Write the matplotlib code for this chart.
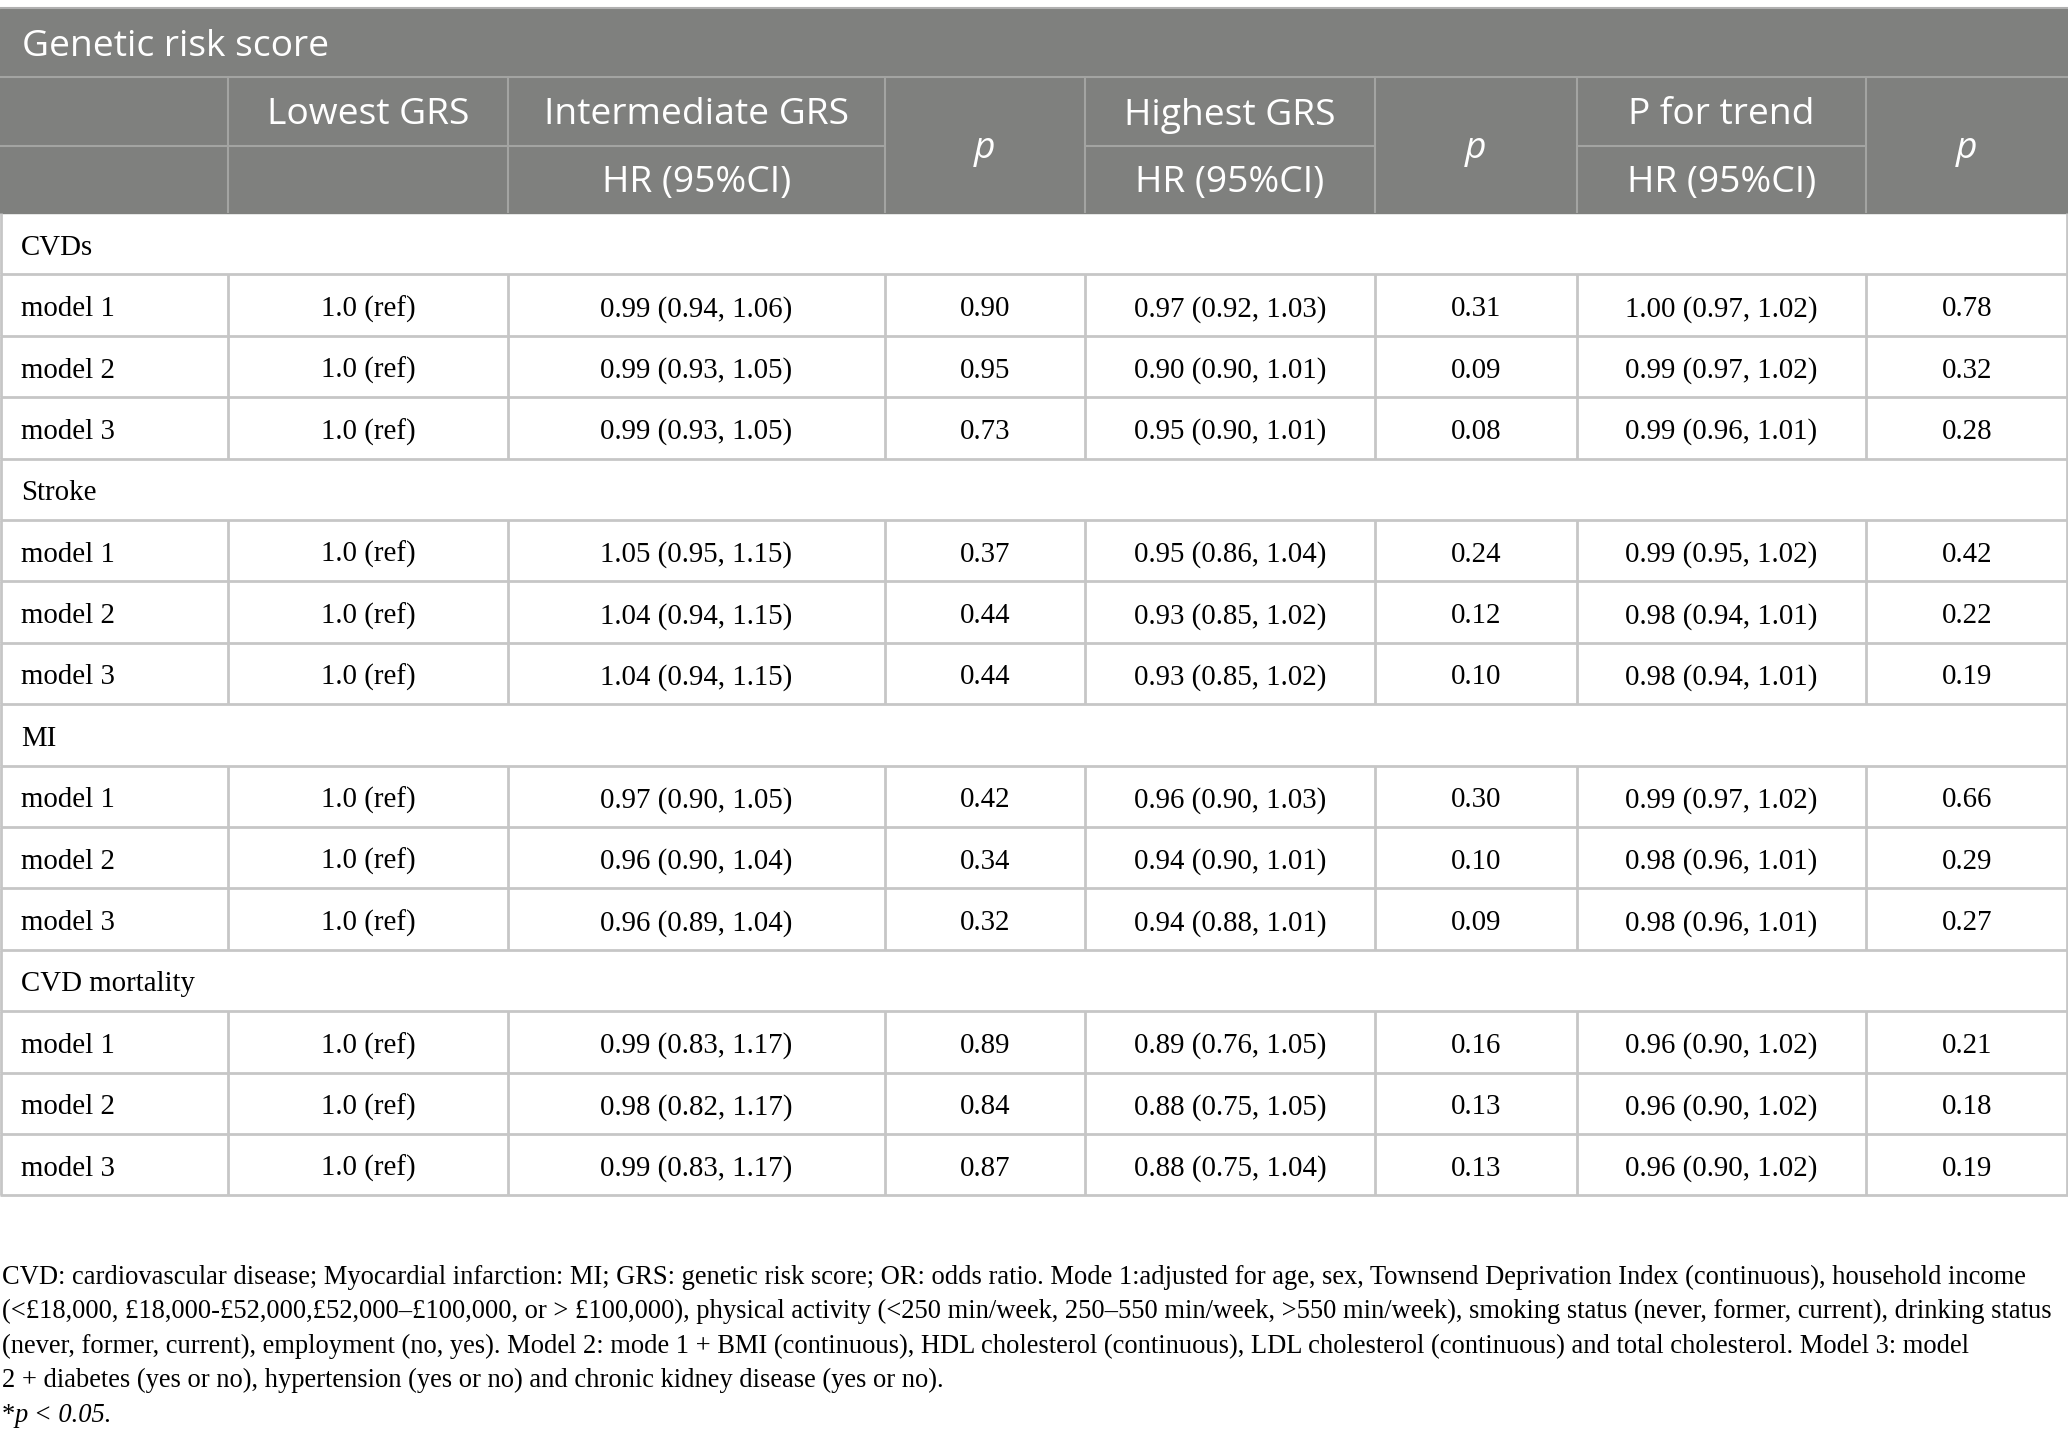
import matplotlib
matplotlib.use("Agg")
from matplotlib import pyplot as plt
from matplotlib.patches import Rectangle

# ---- table content
title = 'Genetic risk score'
col_heads = ['Lowest GRS', 'Intermediate GRS', 'p', 'Highest GRS', 'p', 'P for trend', 'p']
sub_heads = ['', 'HR (95%CI)', '', 'HR (95%CI)', '', 'HR (95%CI)', '']

groups = ['CVDs', 'Stroke', 'MI', 'CVD mortality']
models = ['model 1', 'model 2', 'model 3']
lowest = '1.0 (ref)'

inter_hr = ['0.99 (0.94, 1.06)', '0.99 (0.93, 1.05)', '0.99 (0.93, 1.05)',
            '1.05 (0.95, 1.15)', '1.04 (0.94, 1.15)', '1.04 (0.94, 1.15)',
            '0.97 (0.90, 1.05)', '0.96 (0.90, 1.04)', '0.96 (0.89, 1.04)',
            '0.99 (0.83, 1.17)', '0.98 (0.82, 1.17)', '0.99 (0.83, 1.17)']
inter_p = ['0.90', '0.95', '0.73', '0.37', '0.44', '0.44',
           '0.42', '0.34', '0.32', '0.89', '0.84', '0.87']
high_hr = ['0.97 (0.92, 1.03)', '0.90 (0.90, 1.01)', '0.95 (0.90, 1.01)',
           '0.95 (0.86, 1.04)', '0.93 (0.85, 1.02)', '0.93 (0.85, 1.02)',
           '0.96 (0.90, 1.03)', '0.94 (0.90, 1.01)', '0.94 (0.88, 1.01)',
           '0.89 (0.76, 1.05)', '0.88 (0.75, 1.05)', '0.88 (0.75, 1.04)']
high_p = ['0.31', '0.09', '0.08', '0.24', '0.12', '0.10',
          '0.30', '0.10', '0.09', '0.16', '0.13', '0.13']
trend_hr = ['1.00 (0.97, 1.02)', '0.99 (0.97, 1.02)', '0.99 (0.96, 1.01)',
            '0.99 (0.95, 1.02)', '0.98 (0.94, 1.01)', '0.98 (0.94, 1.01)',
            '0.99 (0.97, 1.02)', '0.98 (0.96, 1.01)', '0.98 (0.96, 1.01)',
            '0.96 (0.90, 1.02)', '0.96 (0.90, 1.02)', '0.96 (0.90, 1.02)']
trend_p = ['0.78', '0.32', '0.28', '0.42', '0.22', '0.19',
           '0.66', '0.29', '0.27', '0.21', '0.18', '0.19']

footnote = [
    'CVD: cardiovascular disease; Myocardial infarction: MI; GRS: genetic risk score; OR: odds ratio. '
    'Mode 1:adjusted for age, sex, Townsend Deprivation Index (continuous), household income',
    '(<\u00a318,000, \u00a318,000-\u00a352,000,\u00a352,000\u2013\u00a3100,000, or > \u00a3100,000), physical activity '
    '(<250 min/week, 250\u2013550 min/week, >550 min/week), smoking status (never, former, current), drinking status',
    '(never, former, current), employment (no, yes). Model 2: mode 1 + BMI (continuous), HDL cholesterol '
    '(continuous), LDL cholesterol (continuous) and total cholesterol. Model 3: model',
    '2 + diabetes (yes or no), hypertension (yes or no) and chronic kidney disease (yes or no).',
]
star_note = 'p < 0.05.'

# ---- layout (pixels)
W, H = 2068, 1454
col_x = [0, 228, 508, 885, 1085, 1375, 1577, 1866, 2068]
head_top, head_mid1, head_mid2, head_bot = 9, 77, 146, 213
row_h = 61.4
head_bg = '#7f807e'
head_line = '#a3a4a2'
grid = '#c6c6c6'
sans = 'Open Sans'
serif = 'Liberation Serif'
hsize, bsize, fsize = 26.8, 20.8, 19.1
hdy, bdy = 4, 4   # nudge text down a little, like the reference

fig = plt.figure(figsize=(W / 100, H / 100), dpi=100)
ax = fig.add_axes([0, 0, 1, 1])
ax.set_xlim(0, W)
ax.set_ylim(H, 0)
ax.axis('off')

# header block
ax.add_patch(Rectangle((0, head_top), W, head_bot - head_top, color=head_bg, zorder=1))
ax.hlines(head_top - 1, 0, W, color='#b0b0b0', lw=1.5, zorder=2)
ax.hlines(head_mid1, 0, W, color=head_line, lw=1.5, zorder=2)
for i in range(len(col_x) - 1):
    if i < 2 or sub_heads[i - 1] != '':
        ax.hlines(head_mid2, col_x[i], col_x[i + 1], color=head_line, lw=1.5, zorder=2)
ax.vlines(col_x[1:-1], head_mid1, head_bot, color=head_line, lw=1.5, zorder=2)

ax.text(22, (head_top + head_mid1) / 2 + hdy, title, family=sans, fontsize=hsize,
        color='white', ha='left', va='center', zorder=3)
for i, (h, s) in enumerate(zip(col_heads, sub_heads)):
    cx = (col_x[i + 1] + col_x[i + 2]) / 2
    if h == 'p':
        ax.text(cx, (head_mid1 + head_bot) / 2 + hdy, h, family=sans, style='italic',
                fontsize=hsize, color='white', ha='center', va='center', zorder=3)
    else:
        ax.text(cx, (head_mid1 + head_mid2) / 2 + hdy, h, family=sans, fontsize=hsize,
                color='white', ha='center', va='center', zorder=3)
        if s:
            ax.text(cx, (head_mid2 + head_bot) / 2 + hdy, s, family=sans, fontsize=hsize,
                    color='white', ha='center', va='center', zorder=3)

# body rows
y = head_bot
k = 0
for g in groups:
    ax.text(21, y + row_h / 2 + bdy, g, family=serif, fontsize=bsize, ha='left', va='center')
    ax.vlines([1, W - 1], y, y + row_h, color=grid, lw=2)
    y += row_h
    ax.hlines(y, 0, W, color=grid, lw=2)
    for m in models:
        cells = [m, lowest, inter_hr[k], inter_p[k], high_hr[k], high_p[k], trend_hr[k], trend_p[k]]
        for j, c in enumerate(cells):
            if j == 0:
                ax.text(21, y + row_h / 2 + bdy, c, family=serif, fontsize=bsize,
                        ha='left', va='center')
            else:
                ax.text((col_x[j] + col_x[j + 1]) / 2, y + row_h / 2 + bdy, c, family=serif,
                        fontsize=bsize, ha='center', va='center')
        ax.vlines([1] + col_x[1:-1] + [W - 1], y, y + row_h, color=grid, lw=2)
        y += row_h
        ax.hlines(y, 0, W, color=grid, lw=2)
        k += 1

# footnote
fy = 1277
for line in footnote:
    ax.text(2, fy, line, family=serif, fontsize=fsize, ha='left', va='center')
    fy += 34.6
ax.text(2, fy, '*', family=serif, fontsize=fsize, ha='left', va='center')
ax.text(15, fy, star_note, family=serif, style='italic', fontsize=fsize, ha='left', va='center')

fig.savefig('out.png', dpi=100, facecolor='white')
